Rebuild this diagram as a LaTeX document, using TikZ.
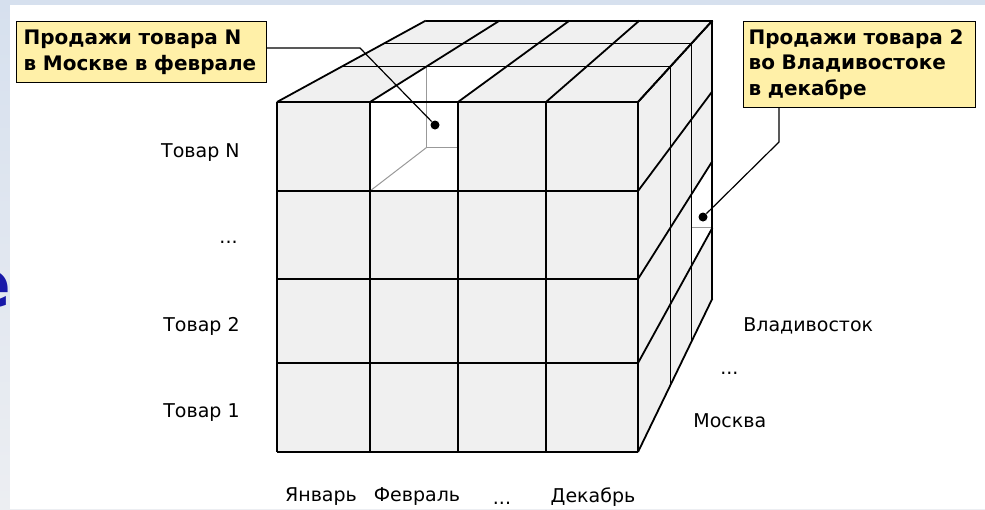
\documentclass[tikz,border=0pt]{standalone}
\usepackage{fontspec}
\setmainfont{DejaVu Sans}
\usepackage{xcolor}
\usepackage{tikz}
\usetikzlibrary{calc}

\definecolor{cellgray}{RGB}{240,240,240}
\definecolor{notefill}{RGB}{255,240,168}
\definecolor{slidetop}{RGB}{214,224,238}
\definecolor{slidebottom}{RGB}{236,238,242}
\definecolor{titleblue}{RGB}{24,24,168}

\begin{document}
\begin{tikzpicture}
	[x=0.5pt, y=-0.5pt,
	cubeline/.style={line width=0.9pt},
	hollowline/.style={line width=0.5pt, black!40},
	leader/.style={line width=0.6pt},
	hitdot/.style={circle, fill=black, inner sep=0pt, minimum size=4.5pt},
	notebox/.style={draw, line width=0.6pt, fill=notefill, anchor=north west, align=left,
		font=\fontsize{10}{12.8}\selectfont\bfseries, inner ysep=0pt},
	lbl/.style={font=\fontsize{9.5}{11}\selectfont, inner sep=0pt}]

	\useasboundingbox (0,0) rectangle (985,509);

	% slide background
	\shade[top color=slidetop, bottom color=slidebottom] (0,0) rectangle (985,509);
	\fill[white] (10,5) rectangle (985,509);
	\begin{scope}
		\clip (0,5) rectangle (10,509);
		\node[font=\fontsize{33}{33}\selectfont\bfseries, text=titleblue, anchor=base east, inner sep=0pt]
			(cutletter) at (12,307) {е};
	\end{scope}

	% cube corners, vanishing point
	\coordinate (vp) at (999,-293);
	\coordinate (ftl) at (277,102);
	\coordinate (ftr) at (638,102);
	\coordinate (fbr) at (638,452);
	\coordinate (btl) at ($(ftl)!0.206!(vp)$);
	\coordinate (btr) at ($(ftr)!0.206!(vp)$);
	\coordinate (bbr) at ($(fbr)!0.206!(vp)$);

	\fill[cellgray] (277,102) rectangle (fbr);
	\fill[cellgray] (ftl) -- (ftr) -- (btr) -- (btl) -- cycle;
	\fill[cellgray] (ftr) -- (btr) -- (bbr) -- (fbr) -- cycle;

	% Moscow, February, product N
	\coordinate (ca) at (370,102);
	\coordinate (cb) at (458,102);
	\coordinate (cc) at (458,191);
	\coordinate (cd) at (370,191);
	\coordinate (ca1) at ($(ca)!0.09!(vp)$);
	\coordinate (cd1) at ($(cd)!0.09!(vp)$);
	\fill[white] (ca) rectangle (cc);
	\fill[white] (ca) -- (cb) -- ($(cb)!0.09!(vp)$) -- (ca1) -- cycle;
	\draw[hollowline] (ca1) -- (cd1) -- (cd1 -| cc);
	\draw[hollowline] (cd1) -- (cd);

	% Vladivostok, December, product 2
	\coordinate (ra) at ($(638,279)!0.148!(vp)$);
	\coordinate (rb) at ($(638,279)!0.206!(vp)$);
	\coordinate (rc) at ($(638,363)!0.206!(vp)$);
	\coordinate (rd) at ($(638,363)!0.148!(vp)$);
	\fill[white] (ra) -- (rb) -- (rc) -- (rd) -- cycle;
	\draw[hollowline] (rc) -- (rc -| ra);

	% grid
	\foreach \x in {277,370,458,546,638} {
		\draw[cubeline] (\x,102) -- (\x,452);
		\draw[cubeline] (\x,102) -- ($(\x,102)!0.206!(vp)$);
	}
	\foreach \y in {102,191,279,363,452} {
		\draw[cubeline] (277,\y) -- (638,\y);
		\draw[cubeline] (638,\y) -- ($(638,\y)!0.206!(vp)$);
	}
	\foreach \f in {0.09,0.148,0.206}
		\draw[cubeline] ($(ftl)!\f!(vp)$) -- ($(ftr)!\f!(vp)$) -- ($(fbr)!\f!(vp)$);

	% labels
	\node[lbl, anchor=east] (tovN) at (240,153) {Товар N};
	\node[lbl, anchor=east] (tovdots) at (238,242) {...};
	\node[lbl, anchor=east] (tov2) at (240,326) {Товар 2};
	\node[lbl, anchor=east] (tov1) at (240,413) {Товар 1};

	\node[lbl] (jan) at (321,497) {Январь};
	\node[lbl] (feb) at (417,497) {Февраль};
	\node[lbl] (mondots) at (502,503) {...};
	\node[lbl] (dec) at (593,497) {Декабрь};

	\node[lbl, anchor=west] (vlad) at (743,326) {Владивосток};
	\node[lbl, anchor=west] (citydots) at (720,373) {...};
	\node[lbl, anchor=west] (msk) at (693,421) {Москва};

	% callouts
	\node[notebox, text width=118pt, minimum height=30.5pt, inner xsep=3.5pt] (boxN) at (16,21)
		{Продажи товара N\\в Москве в феврале};
	\node[notebox, text width=111pt, minimum height=43pt, inner xsep=2.5pt] (box2) at (743,21)
		{Продажи товара 2\\во Владивостоке\\в декабре};

	\node[hitdot] (dotN) at (435,125) {};
	\node[hitdot] (dot2) at (703,217) {};

	\coordinate (bendN) at (360,48);
	\coordinate (bend2) at (779,142);
	\draw[leader] (boxN.east |- bendN) -- (bendN) -- (dotN);
	\draw[leader] (box2.south -| bend2) -- (bend2) -- (dot2);

\end{tikzpicture}
\end{document}
